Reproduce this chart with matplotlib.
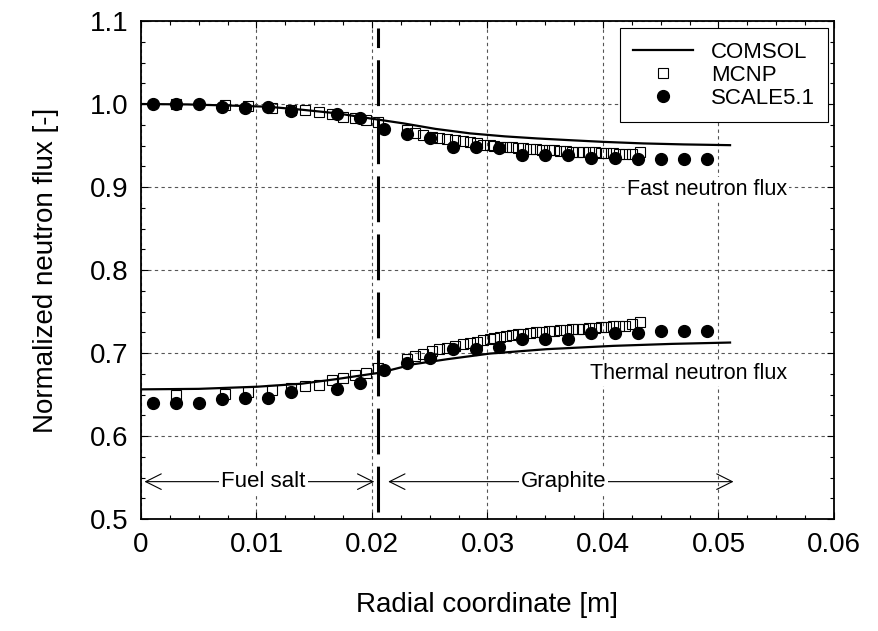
import matplotlib

matplotlib.use('Agg')
import matplotlib.pyplot as plt
from matplotlib.ticker import MultipleLocator, FormatStrFormatter

plt.rcParams['font.family'] = ['Liberation Sans', 'DejaVu Sans']

# COMSOL curves
comsol_fast_x = [0.0, 0.004, 0.008, 0.011, 0.014, 0.017, 0.0198, 0.0227, 0.0255,
                 0.0285, 0.0315, 0.0343, 0.037, 0.040, 0.0435, 0.047, 0.051]
comsol_fast_y = [1.0, 0.9995, 0.998, 0.9967, 0.993, 0.9887, 0.9827, 0.9767, 0.970,
                 0.9646, 0.961, 0.9585, 0.9565, 0.9544, 0.9525, 0.9513, 0.9504]
comsol_th_x = [0.0, 0.005, 0.0101, 0.0139, 0.0168, 0.0207, 0.0236, 0.0265, 0.0302,
               0.0351, 0.0409, 0.046, 0.051]
comsol_th_y = [0.6562, 0.6568, 0.6594, 0.663, 0.6683, 0.6763, 0.6865, 0.6925, 0.6993,
               0.7046, 0.7086, 0.711, 0.7126]

# MCNP tallies
mcnp_x = [0.003, 0.0073, 0.0093, 0.0113, 0.0130, 0.0142, 0.0154, 0.0165, 0.0175,
          0.0185, 0.0195, 0.0205,
          0.0230, 0.0237, 0.0244, 0.0252, 0.0258, 0.0265, 0.0272, 0.0279, 0.0285,
          0.0291, 0.0296, 0.0302, 0.0306, 0.0311, 0.0316, 0.0321, 0.0326, 0.0331,
          0.0337, 0.0342, 0.0347, 0.0353, 0.0358, 0.0363, 0.0368, 0.0373, 0.0378,
          0.0383, 0.0388, 0.0393, 0.0398, 0.0403, 0.0409, 0.0414, 0.0419, 0.0425,
          0.0432]
mcnp_fast = [1.0, 0.9988, 0.9975, 0.9955, 0.9927, 0.9927, 0.9907, 0.9875, 0.9847,
             0.9827, 0.9806, 0.9778,
             0.9686, 0.9645, 0.9625, 0.9605, 0.9585, 0.9577, 0.9565, 0.9553, 0.9537,
             0.9525, 0.9512, 0.9504, 0.9496, 0.9484, 0.9476, 0.9476, 0.9464, 0.9464,
             0.9456, 0.9452, 0.9447, 0.9444, 0.9444, 0.9435, 0.9435, 0.9423, 0.9423,
             0.9423, 0.9416, 0.9416, 0.9413, 0.9410, 0.9405, 0.9403, 0.9403, 0.9403,
             0.9423]
mcnp_th = [0.650, 0.651, 0.653, 0.656, 0.658, 0.660, 0.662, 0.667, 0.670,
           0.673, 0.676, 0.682,
           0.6925, 0.6965, 0.6985, 0.7025, 0.7046, 0.7065, 0.7086, 0.7106, 0.7118,
           0.7138, 0.7155, 0.7174, 0.7186, 0.7195, 0.7207, 0.7215, 0.7227, 0.7227,
           0.7239, 0.7247, 0.7255, 0.7267, 0.7267, 0.7276, 0.7276, 0.7288, 0.7288,
           0.7295, 0.7307, 0.7307, 0.7316, 0.7316, 0.7320, 0.7328, 0.7328, 0.7348,
           0.7368]

# SCALE5.1 results
scale_x = [0.001, 0.003, 0.005, 0.007, 0.009, 0.011, 0.013, 0.017, 0.019,
           0.021, 0.023, 0.025, 0.027, 0.029, 0.031, 0.033, 0.035, 0.037, 0.039,
           0.041, 0.043, 0.045, 0.047, 0.049]
scale_fast = [1.0, 1.0, 1.0, 0.9967, 0.9955, 0.9964, 0.9915, 0.9875, 0.9827,
              0.9698, 0.9634, 0.9585, 0.9484, 0.9484, 0.9468, 0.938, 0.938, 0.938,
              0.9347, 0.9347, 0.9340, 0.9335, 0.9335, 0.9335]
scale_th = [0.6393, 0.6393, 0.6393, 0.644, 0.6453, 0.6453, 0.653, 0.657, 0.6635,
            0.6792, 0.6884, 0.6937, 0.7053, 0.7053, 0.7078, 0.7174, 0.7174, 0.7174,
            0.7235, 0.7235, 0.7235, 0.726, 0.726, 0.726]

interface_x = 0.0205

fig = plt.figure(figsize=(8.79, 6.31), dpi=100)
ax = fig.add_axes([141 / 879, 1 - 519 / 631, 693 / 879, 498 / 631])

ax.plot(comsol_fast_x, comsol_fast_y, color='black', lw=1.6, label='COMSOL', zorder=3)
ax.plot(comsol_th_x, comsol_th_y, color='black', lw=1.6, zorder=3)

sq = dict(ls='none', marker='s', ms=7.5, mfc='none', mec='black', mew=0.8, zorder=4)
ax.plot(mcnp_x, mcnp_fast, label='MCNP', **sq)
ax.plot(mcnp_x, mcnp_th, **sq)

dot = dict(ls='none', marker='o', ms=8.5, color='black', zorder=5)
ax.plot(scale_x, scale_fast, label='SCALE5.1', **dot)
ax.plot(scale_x, scale_th, **dot)

# fuel / graphite boundary
ax.axvline(interface_x, ymin=0.015, ymax=0.985, color='black', lw=2.2,
           ls=(0, (15, 4)), zorder=6)

arrow = dict(arrowstyle='<->', color='black', lw=0.8, mutation_scale=28,
             shrinkA=0, shrinkB=0)
arrow_y = 0.545
ax.annotate('', xy=(0.0003, arrow_y), xytext=(0.0202, arrow_y), arrowprops=arrow)
ax.annotate('', xy=(0.0214, arrow_y), xytext=(0.0513, arrow_y), arrowprops=arrow)
box = dict(facecolor='white', edgecolor='none', pad=1.5)
ax.text(0.0106, arrow_y, 'Fuel salt', fontsize=16, ha='center', va='center', bbox=box)
ax.text(0.0366, arrow_y, 'Graphite', fontsize=16, ha='center', va='center', bbox=box)

ax.text(0.049, 0.897, 'Fast neutron flux', fontsize=15.5, ha='center', va='center',
        bbox=box, zorder=2)
ax.text(0.0474, 0.6757, 'Thermal neutron flux', fontsize=15.5, ha='center',
        va='center', bbox=box, zorder=2)

ax.set_xlim(0, 0.06)
ax.set_ylim(0.5, 1.1)
ax.xaxis.set_major_locator(MultipleLocator(0.01))
ax.xaxis.set_minor_locator(MultipleLocator(0.0025))
ax.yaxis.set_major_locator(MultipleLocator(0.1))
ax.yaxis.set_minor_locator(MultipleLocator(0.025))
ax.xaxis.set_major_formatter(lambda v, p: '0' if abs(v) < 1e-9 else f'{v:.2f}')
ax.yaxis.set_major_formatter(FormatStrFormatter('%.1f'))
ax.tick_params(which='both', direction='in', top=True, right=True,
               labelsize=20, width=0.8)
ax.tick_params(which='major', length=5, pad=9)
ax.tick_params(which='minor', length=3)
for s in ax.spines.values():
    s.set_linewidth(1.3)
ax.grid(True, which='major', ls=(0, (3, 3)), color='#555555', lw=0.8)
ax.set_axisbelow(True)

ax.set_xlabel('Radial coordinate [m]', fontsize=20, labelpad=25)
ax.set_ylabel('Normalized neutron flux [-]', fontsize=20, labelpad=22)

leg = ax.legend(loc='upper right', bbox_to_anchor=(0.9945, 0.99), fontsize=16,
                frameon=True, fancybox=False, framealpha=1, edgecolor='black',
                handlelength=2.7, handletextpad=0.8, labelspacing=0.1,
                borderpad=0.6, borderaxespad=0.1)
leg.get_frame().set_linewidth(0.8)
leg.set_zorder(10)

fig.savefig('out.png', dpi=100)
